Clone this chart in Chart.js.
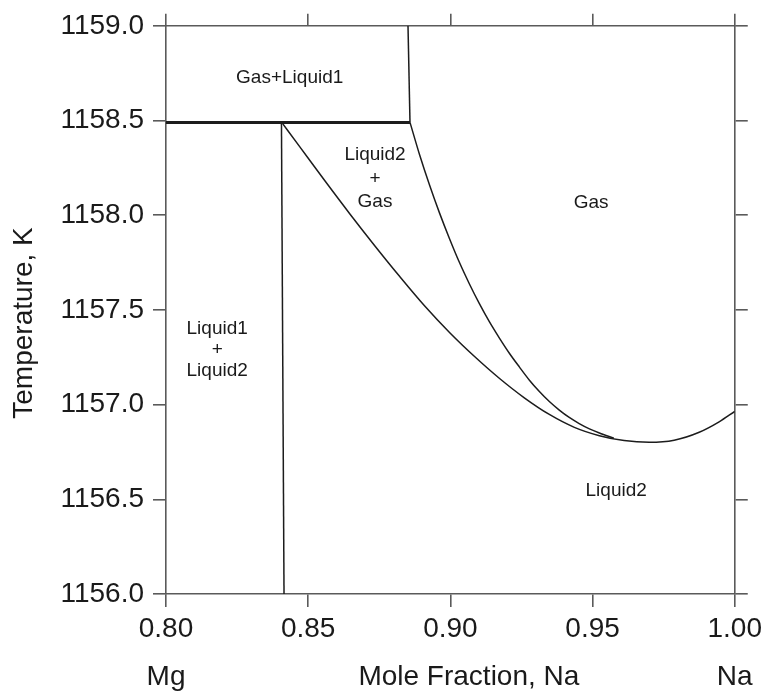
<!DOCTYPE html>
<html>
<head>
<meta charset="utf-8">
<title>Mg-Na phase diagram</title>
<script src="https://cdn.jsdelivr.net/npm/chart.js@4.4.1/dist/chart.umd.min.js"></script>
<style>
    html, body { margin: 0; padding: 0; background: #fff; }
    #wrap { width: 767px; height: 696px; }
</style>
</head>
<body>
<div id="wrap"><canvas id="phaseChart" width="767" height="696"></canvas></div>
<script>
// axis ticks
const xTicks = [0.80, 0.85, 0.90, 0.95, 1.00];
const yTicks = [1156.0, 1156.5, 1157.0, 1157.5, 1158.0, 1158.5, 1159.0];

// three-phase line (Gas + Liquid1 + Liquid2)
const eutecticX = [0.80, 0.8858];
const eutecticT = [1158.49, 1158.49];

// Gas+Liquid1 / Gas boundary
const gasL1X = [0.8858, 0.8851];
const gasL1T = [1158.49, 1159.0];

// Liquid1 + Liquid2 boundary
const l1l2X = [0.8406, 0.8415];
const l1l2T = [1158.49, 1156.0];

// Liquid2 boundary (bubble side)
const liquidX = [0.8407, 0.8470, 0.8558, 0.8646, 0.8734, 0.8822, 0.8909, 0.8997, 0.9085, 0.9173, 0.9260, 0.9348, 0.9436, 0.9524, 0.9611, 0.9699, 0.9787, 0.9875, 0.9945, 1.0000];
const liquidT = [1158.49, 1158.362, 1158.183, 1158.008, 1157.839, 1157.676, 1157.522, 1157.381, 1157.254, 1157.138, 1157.036, 1156.948, 1156.880, 1156.836, 1156.810, 1156.801, 1156.812, 1156.854, 1156.909, 1156.964];

// Gas boundary (dew side)
const gasX = [0.8858, 0.8892, 0.8927, 0.8962, 0.8997, 0.9032, 0.9067, 0.9102, 0.9137, 0.9173, 0.9208, 0.9243, 0.9278, 0.9313, 0.9348, 0.9383, 0.9418, 0.9453, 0.9489, 0.9524, 0.9575];
const gasT = [1158.49, 1158.318, 1158.158, 1158.011, 1157.876, 1157.750, 1157.637, 1157.533, 1157.438, 1157.350, 1157.270, 1157.198, 1157.129, 1157.069, 1157.016, 1156.971, 1156.932, 1156.900, 1156.872, 1156.850, 1156.822];

// phase region labels
const regionText = ['Gas+Liquid1', 'Liquid2', '+', 'Gas', 'Gas', 'Liquid1', '+', 'Liquid2', 'Liquid2'];
const regionX = [0.8435, 0.8735, 0.8735, 0.8735, 0.9495, 0.818, 0.818, 0.818, 0.9583];
const regionT = [1158.725, 1158.317, 1158.19, 1158.07, 1158.065, 1157.40, 1157.29, 1157.18, 1156.547];

// texts under the x axis
const bottomText = ['Mg', 'Mole Fraction, Na', 'Na'];
const bottomX = [0.80, 0.9065, 1.00];
const yTitle = 'Temperature, K';

const FONT = '"Liberation Sans", Arial, sans-serif';
const AXIS_COLOR = '#5a5a5a';
const LINE_COLOR = '#1c1c1c';

const toPoints = (xs, ts) => xs.map((x, i) => ({ x: x, y: ts[i] }));

const lineSet = (xs, ts, width) => ({
    data: toPoints(xs, ts),
    showLine: true,
    borderColor: LINE_COLOR,
    borderWidth: width,
    pointRadius: 0,
    fill: false,
    cubicInterpolationMode: 'monotone'
});

// draws the region names and the texts outside the plot
const textPlugin = {
    id: 'phaseText',
    afterDraw(chart) {
        const ctx = chart.ctx;
        const xs = chart.scales.x;
        const ys = chart.scales.y;
        ctx.save();
        ctx.fillStyle = '#1a1a1a';
        ctx.textAlign = 'center';
        ctx.textBaseline = 'middle';
        ctx.font = '19px ' + FONT;
        regionText.forEach((t, i) => {
            ctx.fillText(t, xs.getPixelForValue(regionX[i]), ys.getPixelForValue(regionT[i]));
        });

        ctx.font = '28px ' + FONT;
        bottomText.forEach((t, i) => {
            ctx.fillText(t, xs.getPixelForValue(bottomX[i]), 677);
        });

        ctx.translate(24, 323);
        ctx.rotate(-Math.PI / 2);
        ctx.fillText(yTitle, 0, 0);
        ctx.restore();
    }
};

const frameGrid = {
    drawOnChartArea: false,
    drawTicks: true,
    tickLength: 13,
    color: AXIS_COLOR,
    lineWidth: 1.6
};
const frameBorder = { display: true, color: AXIS_COLOR, width: 1.6 };

new Chart(document.getElementById('phaseChart'), {
    type: 'scatter',
    data: {
        datasets: [
            lineSet(eutecticX, eutecticT, 3),
            lineSet(gasL1X, gasL1T, 1.5),
            lineSet(l1l2X, l1l2T, 1.5),
            lineSet(liquidX, liquidT, 1.5),
            lineSet(gasX, gasT, 1.5)
        ]
    },
    options: {
        responsive: false,
        animation: false,
        layout: { padding: 0 },
        plugins: { legend: { display: false }, tooltip: { enabled: false } },
        scales: {
            x: {
                type: 'linear', position: 'bottom', min: 0.8, max: 1.0,
                afterBuildTicks: (s) => { s.ticks = xTicks.map(v => ({ value: v })); },
                ticks: {
                    callback: (v) => Number(v).toFixed(2),
                    font: { family: FONT, size: 28 }, color: '#1a1a1a', padding: 5, maxRotation: 0
                },
                grid: frameGrid, border: frameBorder,
                afterFit: (s) => { s.height = 102; }
            },
            x2: {
                type: 'linear', position: 'top', min: 0.8, max: 1.0,
                afterBuildTicks: (s) => { s.ticks = xTicks.map(v => ({ value: v })); },
                ticks: { display: false },
                grid: Object.assign({}, frameGrid, { tickLength: 12 }), border: frameBorder,
                afterFit: (s) => { s.height = 23; }
            },
            y: {
                type: 'linear', position: 'left', min: 1156, max: 1159,
                afterBuildTicks: (s) => { s.ticks = yTicks.map(v => ({ value: v })); },
                ticks: {
                    callback: (v) => Number(v).toFixed(1),
                    font: { family: FONT, size: 28 }, color: '#1a1a1a', padding: 9
                },
                grid: frameGrid, border: frameBorder,
                afterFit: (s) => { s.width = 166; }
            },
            y2: {
                type: 'linear', position: 'right', min: 1156, max: 1159,
                afterBuildTicks: (s) => { s.ticks = yTicks.map(v => ({ value: v })); },
                ticks: { display: false },
                grid: frameGrid, border: frameBorder,
                afterFit: (s) => { s.width = 31; }
            }
        }
    },
    plugins: [textPlugin]
});
</script>
</body>
</html>
